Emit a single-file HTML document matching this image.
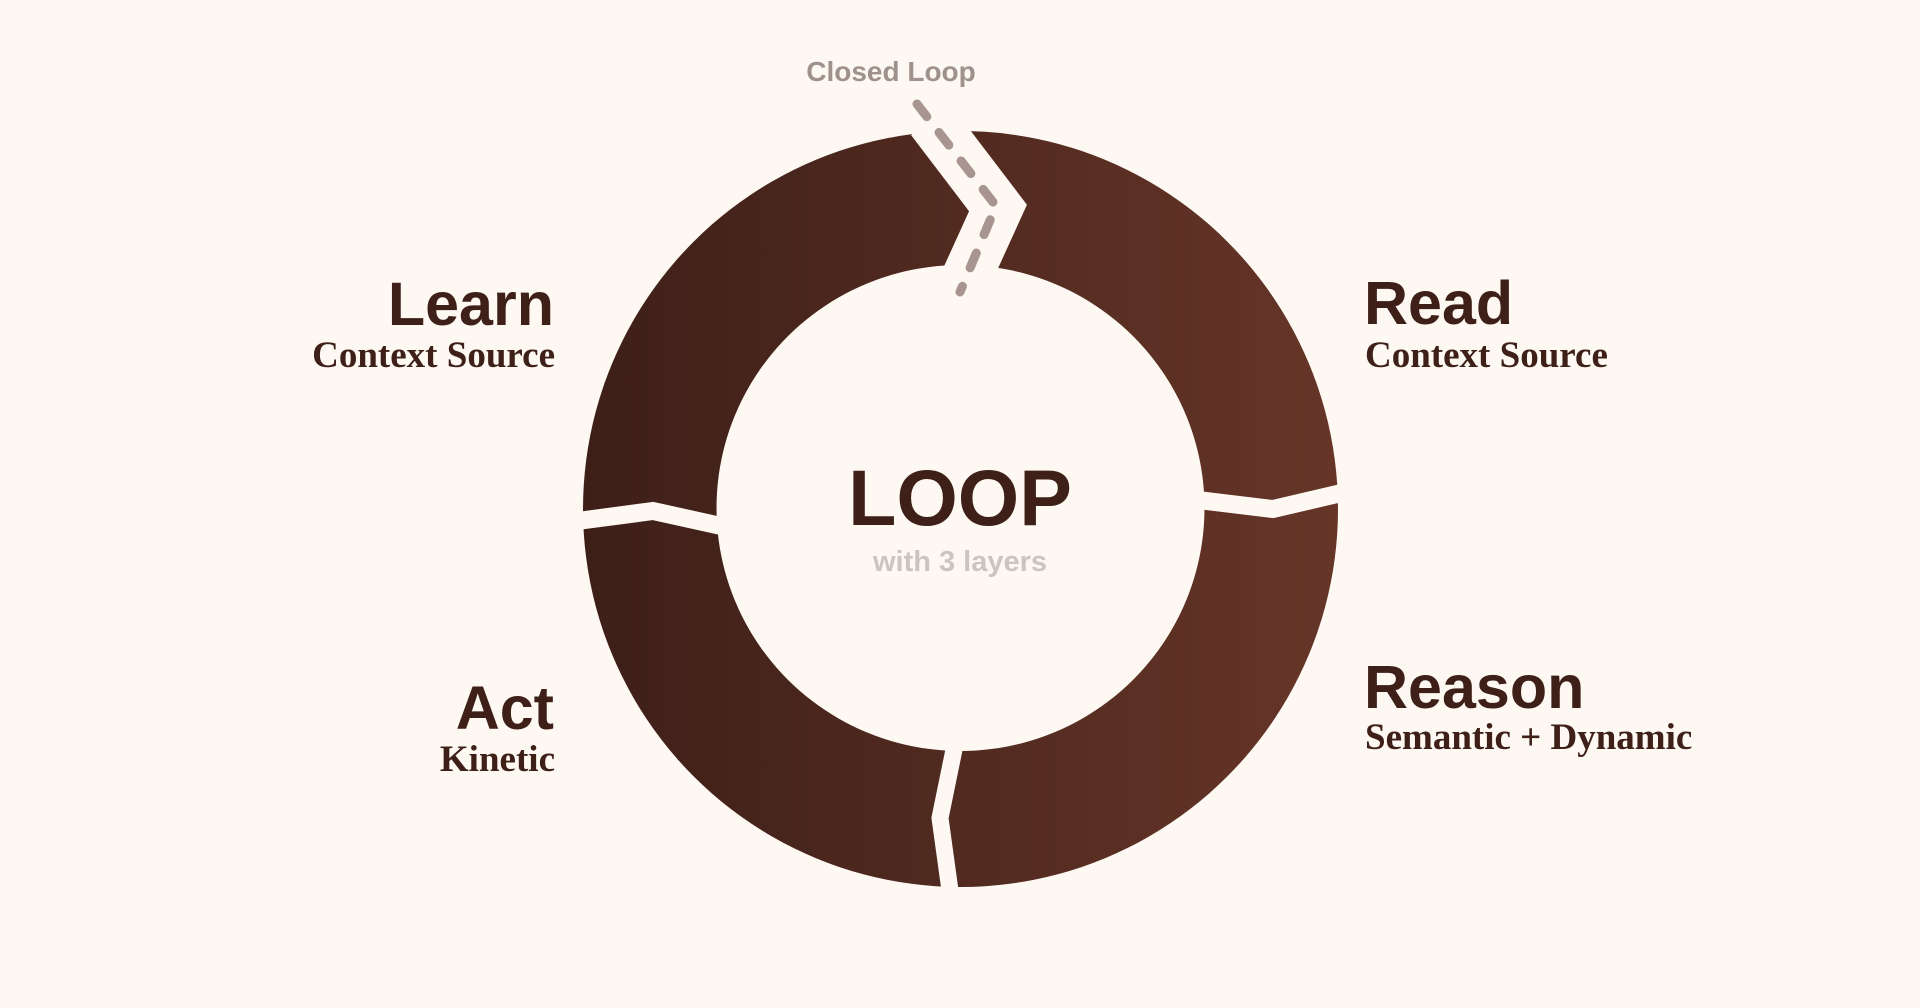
<!DOCTYPE html>
<html><head><meta charset="utf-8"><style>
html,body{margin:0;padding:0;background:#fdf8f2;}
body{width:1920px;height:1008px;overflow:hidden;position:relative;font-family:"Liberation Sans",sans-serif;}
</style></head><body>
<svg width="1920" height="1008" viewBox="0 0 1920 1008" xmlns="http://www.w3.org/2000/svg" style="position:absolute;left:0;top:0">
<defs>
<linearGradient id="g" x1="583" y1="0" x2="1338" y2="0" gradientUnits="userSpaceOnUse">
<stop offset="0" stop-color="#3d1f18"/><stop offset="1" stop-color="#663528"/>
</linearGradient>
</defs>
<rect width="1920" height="1008" fill="#fdf8f2"/>
<path fill="url(#g)" fill-rule="evenodd" d="M960.5,131 a377.5,378 0 1,0 0.01,0 Z M960.5,265 a244,243 0 1,0 0.01,0 Z"/>
<g fill="none" stroke="#fdf8f2" stroke-linejoin="miter" stroke-miterlimit="10">
<polyline points="931,120 998,208 963,285" stroke-width="50"/>
<polyline points="570,522 653,511 730,528" stroke-width="18"/>
<polyline points="1190,499 1273,509 1350,491" stroke-width="18"/>
<polyline points="957,735 940,818 952,905" stroke-width="17"/>
</g>
<polyline points="917,104 996,206 960,292" fill="none" stroke="#a8958f" stroke-width="9" stroke-linecap="round" stroke-linejoin="round" stroke-dasharray="16 20"/>
<g font-family="Liberation Sans, sans-serif" font-weight="bold" fill="#3e2019">
<text x="554" y="325" font-size="61" text-anchor="end">Learn</text>
<text x="554" y="729" font-size="61" text-anchor="end">Act</text>
<text x="1364" y="324" font-size="61">Read</text>
<text x="1364" y="708" font-size="61">Reason</text>
<text x="960" y="525" font-size="79" text-anchor="middle">LOOP</text>
</g>
<text x="960" y="571" font-size="29" font-weight="bold" fill="#cdc4bf" text-anchor="middle" font-family="Liberation Sans, sans-serif">with 3 layers</text>
<text x="891" y="81" font-size="28" font-weight="bold" fill="#9f918c" text-anchor="middle" font-family="Liberation Sans, sans-serif">Closed Loop</text>
<g font-family="Liberation Serif, serif" font-weight="bold" fill="#3e2019" font-size="37">
<text x="555" y="367" text-anchor="end">Context Source</text>
<text x="555" y="771" text-anchor="end">Kinetic</text>
<text x="1365" y="367">Context Source</text>
<text x="1365" y="749">Semantic + Dynamic</text>
</g>
</svg>
</body></html>
